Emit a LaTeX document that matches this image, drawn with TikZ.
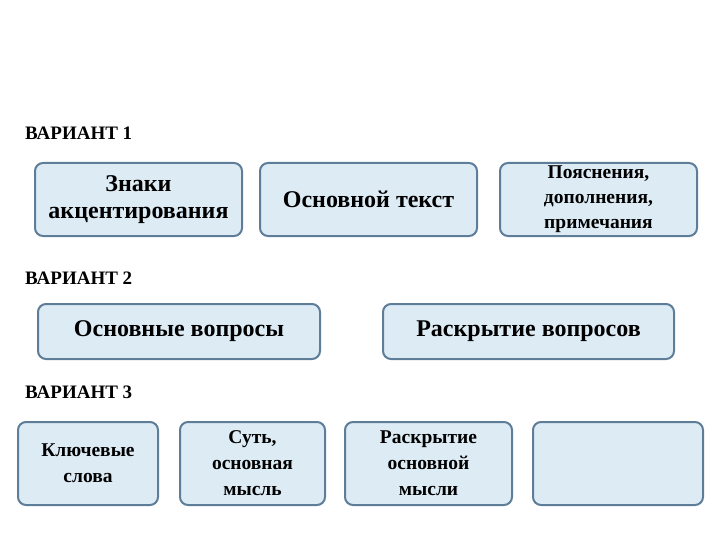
\documentclass[tikz,border=0pt]{standalone}
\usepackage{fontspec}
\setmainfont{Liberation Serif}
\begin{document}
\begin{tikzpicture}[x=1pt,y=-1pt,
  bx/.style={draw=boxline,line width=2pt,fill=boxfill,rounded corners=8pt,align=center,inner sep=0pt},
  lbl/.style={anchor=west,font=\bfseries\fontsize{19}{22}\selectfont,inner sep=0pt}]
\definecolor{boxline}{HTML}{5E7D98}
\definecolor{boxfill}{HTML}{DDEBF5}
\useasboundingbox (0,0) rectangle (720,540);
\node[lbl] (v1) at (25,133) {ВАРИАНТ 1};
\node[lbl] (v2) at (25,278) {ВАРИАНТ 2};
\node[lbl] (v3) at (25,392) {ВАРИАНТ 3};
\newcommand{\bbox}[6]{\node[bx,minimum width=#4-#2,minimum height=#5-#3,font=#6] (#1) at ({(#2+#4)/2},{(#3+#5)/2})}
\bbox{a}{35}{163}{242}{236}{\bfseries\fontsize{24}{27}\selectfont}{Знаки\\акцентирования};
\bbox{b}{260}{163}{477}{236}{\bfseries\fontsize{24}{27}\selectfont}{Основной текст};
\bbox{c}{500}{163}{697}{236}{\bfseries\fontsize{19.5}{25}\selectfont}{Пояснения,\\дополнения,\\примечания};
\bbox{d}{38}{304}{320}{359}{\bfseries\fontsize{24}{27}\selectfont}{Основные вопросы};
\bbox{e}{383}{304}{674}{359}{\bfseries\fontsize{24}{27}\selectfont}{Раскрытие вопросов};
\bbox{f}{18}{422}{158}{505}{\bfseries\fontsize{19.5}{26}\selectfont}{Ключевые\\слова};
\bbox{g}{180}{422}{325}{505}{\bfseries\fontsize{19.5}{26}\selectfont}{Суть,\\основная\\мысль};
\bbox{h}{345}{422}{512}{505}{\bfseries\fontsize{19.5}{26}\selectfont}{Раскрытие\\основной\\мысли};
\bbox{i}{533}{422}{703}{505}{}{};
\end{tikzpicture}
\end{document}
